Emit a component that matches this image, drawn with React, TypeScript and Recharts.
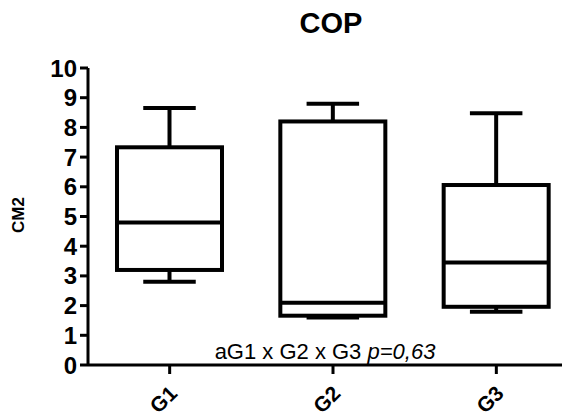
import React from 'react';
import { Bar, ComposedChart, Customized, XAxis, YAxis } from 'recharts';

const groups = ['G1', 'G2', 'G3'];
const mins = [2.8, 1.6, 1.79];
const q1s = [3.2, 1.66, 1.96];
const medians = [4.8, 2.1, 3.45];
const q3s = [7.33, 8.2, 6.06];
const maxs = [8.65, 8.8, 8.48];
const yTicks = [0, 1, 2, 3, 4, 5, 6, 7, 8, 9, 10];

const FONT = '"Liberation Sans", Arial, sans-serif';

const data = groups.map((name, i) => ({
  name,
  min: mins[i],
  q1: q1s[i],
  median: medians[i],
  q3: q3s[i],
  max: maxs[i],
}));

const BoxShape = (props: any) => {
  const { x, y, width, height, payload } = props;
  const { min, q1, median, q3, max } = payload;
  const k = height / (max - min);
  const py = (v: number) => y + (max - v) * k;
  const cx = x + width / 2;
  const cap = width / 4;
  return (
    <g stroke="#000" strokeWidth={4} fill="none">
      <line x1={cx} x2={cx} y1={py(max)} y2={py(q3)} />
      <line x1={cx} x2={cx} y1={py(q1)} y2={py(min)} />
      <line x1={cx - cap} x2={cx + cap} y1={py(max)} y2={py(max)} />
      <line x1={cx - cap} x2={cx + cap} y1={py(min)} y2={py(min)} />
      <rect x={x} y={py(q3)} width={width} height={py(q1) - py(q3)} fill="#fff" />
      <line x1={x} x2={x + width} y1={py(median)} y2={py(median)} />
    </g>
  );
};

const XTick = (props: any) => {
  const { x, y, payload } = props;
  const ax = x - 2;
  const ay = y + 8;
  return (
    <text
      x={ax}
      y={ay}
      transform={`rotate(-45 ${ax} ${ay})`}
      textAnchor="end"
      dominantBaseline="hanging"
      fontFamily={FONT}
      fontWeight="bold"
      fontSize={21}
      fill="#000"
    >
      {payload.value}
    </text>
  );
};

const Extras = () => (
  <g fontFamily={FONT} fill="#000">
    <text x={331} y={33} textAnchor="middle" fontSize={29} fontWeight="bold">
      COP
    </text>
    <text x={24} y={215} transform="rotate(-90 24 215)" textAnchor="middle" fontSize={17} fontWeight="bold">
      CM2
    </text>
    <text x={325} y={359} textAnchor="middle" fontSize={22}>
      aG1 x G2 x G3 <tspan fontStyle="italic">p=0,63</tspan>
    </text>
  </g>
);

export default function App() {
  return (
    <div style={{ margin: '-8px 0 0 -8px', width: 570, height: 419, background: '#fff' }}>
      <ComposedChart
        width={570}
        height={419}
        data={data}
        margin={{ top: 68, right: -8, left: 28, bottom: 0 }}
      >
        <XAxis
          dataKey="name"
          height={54}
          axisLine={{ stroke: '#000', strokeWidth: 3 }}
          tickLine={{ stroke: '#000', strokeWidth: 3 }}
          tickSize={9}
          tick={<XTick />}
          interval={0}
        />
        <YAxis
          width={60}
          domain={[0, 10]}
          ticks={yTicks}
          interval={0}
          axisLine={{ stroke: '#000', strokeWidth: 3 }}
          tickLine={{ stroke: '#000', strokeWidth: 3 }}
          tickSize={8}
          tickMargin={3}
          tick={{ fill: '#000', fontSize: 24, fontWeight: 'bold', fontFamily: FONT }}
        />
        <Bar
          dataKey={(d: any) => [d.min, d.max]}
          barSize={105}
          shape={<BoxShape />}
          isAnimationActive={false}
        />
        <Customized component={Extras} />
      </ComposedChart>
    </div>
  );
}
